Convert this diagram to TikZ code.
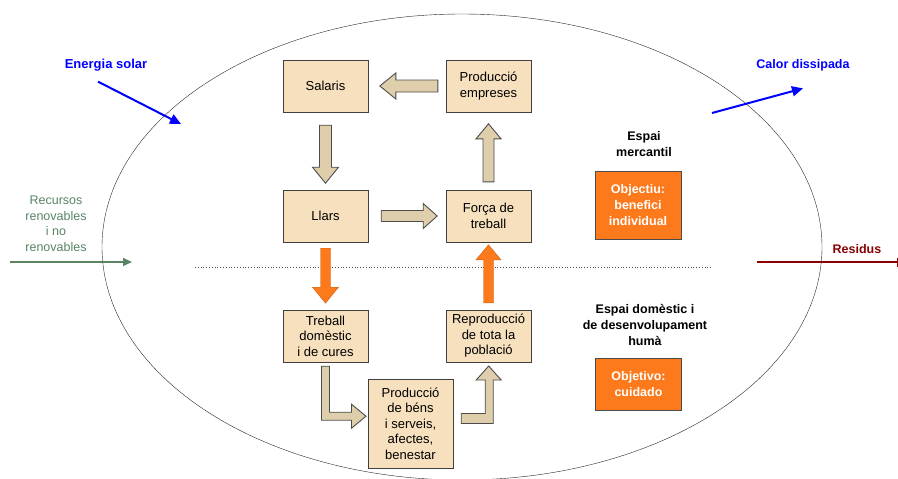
\documentclass[tikz,border=0pt]{standalone}
\usepackage{fontspec}
\setmainfont{Liberation Sans}
\usetikzlibrary{arrows.meta}
\usetikzlibrary{calc}
\definecolor{tanbox}{RGB}{246,224,190}
\definecolor{tanarrow}{RGB}{222,206,172}
\definecolor{orangebox}{RGB}{253,122,28}
\definecolor{greenres}{RGB}{88,132,100}
\definecolor{darkred}{RGB}{140,0,0}

\begin{document}
\begin{tikzpicture}[x=1pt,y=-1pt,
        box/.style = {draw=black!75, fill=tanbox, minimum width=85, minimum height=52, align=center, font=\fontsize{13}{15.5}\selectfont},
        goal/.style = {draw=black!70, fill=orangebox, text=white, minimum width=86, minimum height=52, align=center, font=\bfseries\fontsize{12.5}{16}\selectfont},
        title/.style = {align=center, font=\bfseries\fontsize{12.5}{16}\selectfont},
        barrow/.style = {draw=black!70, line width=0.9pt, fill=tanarrow, line join=miter},
        oarrow/.style = {draw=orangebox!80!black, fill=orangebox, line join=miter},
        flow/.style = {line width=2pt, -{Triangle[length=11pt, width=10pt]}}]
        \useasboundingbox (0,0) rectangle (898,479);

        \draw[black!85] (462,247) ellipse [x radius=360, y radius=233];
        \draw[dotted, black!70, line width=0.8pt] (195,267) -- (712,267);

        \node[box] (sal) at (325.5,86) {Salaris};
        \node[box] (prodemp) at (488.5,86) {Producció\\empreses};
        \node[box] (llars) at (325.5,216) {Llars};
        \node[box] (forca) at (488.5,216) {Força de\\treball};
        \node[box] (treb) at (325.5,336) {Treball\\domèstic\\i de cures};
        \node[box] (repro) at (488.5,336) {Reproducció\\de tota la\\població};
        \node[box, minimum height=89] (prodbens) at (410.5,423.5) {Producció\\de béns\\i serveis,\\afectes,\\benestar};

        \node[title] (merc) at (644,144) {Espai\\mercantil};
        \node[goal, minimum height=68] (obj1) at (638,205) {Objectiu:\\benefici\\individual};
        \node[title] (dom) at (645,325) {Espai domèstic i\\de desenvolupament\\humà};
        \node[goal] (obj2) at (638.5,384) {Objetivo:\\cuidado};

        % block arrows, upper loop
        \draw[barrow] ($(prodemp.west)+(-8,-6)$) -- ++(-42,0) -- ++(0,-7) -- ++(-16,13) -- ++(16,13) -- ++(0,-7) -- ++(42,0) -- cycle;
        \draw[barrow] ($(sal.south)+(-6,13)$) -- ++(12,0) -- ++(0,42) -- ++(7,0) -- ++(-13,16) -- ++(-13,-16) -- ++(7,0) -- cycle;
        \draw[barrow] ($(llars.east)+(13,-5.5)$) -- ++(42,0) -- ++(0,-7) -- ++(14,12.5) -- ++(-14,12.5) -- ++(0,-7) -- ++(-42,0) -- cycle;
        \draw[barrow] ($(forca.north)+(-5.5,-8)$) -- ++(0,-43) -- ++(-7,0) -- ++(12.5,-15) -- ++(12.5,15) -- ++(-7,0) -- ++(0,43) -- cycle;

        % orange arrows across the line
        \draw[oarrow] ($(llars.south)+(-5,6)$) -- ++(10,0) -- ++(0,39) -- ++(8,0) -- ++(-13,16) -- ++(-13,-16) -- ++(8,0) -- cycle;
        \draw[oarrow] ($(repro.north)+(-5,-7)$) -- ++(0,-43) -- ++(-7.5,0) -- ++(12.5,-15) -- ++(12.5,15) -- ++(-7.5,0) -- ++(0,43) -- cycle;

        % bent arrows, lower loop
        \draw[barrow] ($(treb.south)+(-4,4)$) -- ++(8,0) -- ++(0,46) -- ++(22,0) -- ++(0,-8) -- ++(14.5,12) -- ++(-14.5,12) -- ++(0,-8) -- ++(-30,0) -- cycle;
        \draw[barrow] ($(prodbens.east)+(8,-10)$) -- ++(24,0) -- ++(0,-33.5) -- ++(-9,0) -- ++(12.5,-14) -- ++(12.5,14) -- ++(-8,0) -- ++(0,43.5) -- ++(-32,0) -- cycle;

        % outside flows
        \node[title, text=blue, font=\bfseries\fontsize{13}{16}\selectfont] (sol) at (106,65) {Energia solar};
        \coordinate (solin) at (181,124);
        \draw[flow, blue] ($(sol.south)+(-8,7)$) -- (solin);

        \node[title, text=blue] (calor) at (803,65) {Calor dissipada};
        \coordinate (calorout) at (712,113);
        \draw[flow, blue] (calorout) -- ($(calor.south)+(0,14)$);

        \node[align=center, text=greenres, font=\fontsize{12.5}{15.5}\selectfont] (recs) at (56,224) {Recursos\\renovables\\i no\\renovables};
        \coordinate (recsin) at (132,262);
        \draw[greenres, line width=1.5pt, -{Triangle[length=9pt, width=8pt]}] (10,262) -- (recsin);

        \node[title, text=darkred] (res) at (857,249) {Residus};
        \coordinate (resout) at (898,262);
        \draw[darkred, line width=1.5pt, -{Bar[width=9pt]}] (757,262) -- (resout);

    \end{tikzpicture}
\end{document}
